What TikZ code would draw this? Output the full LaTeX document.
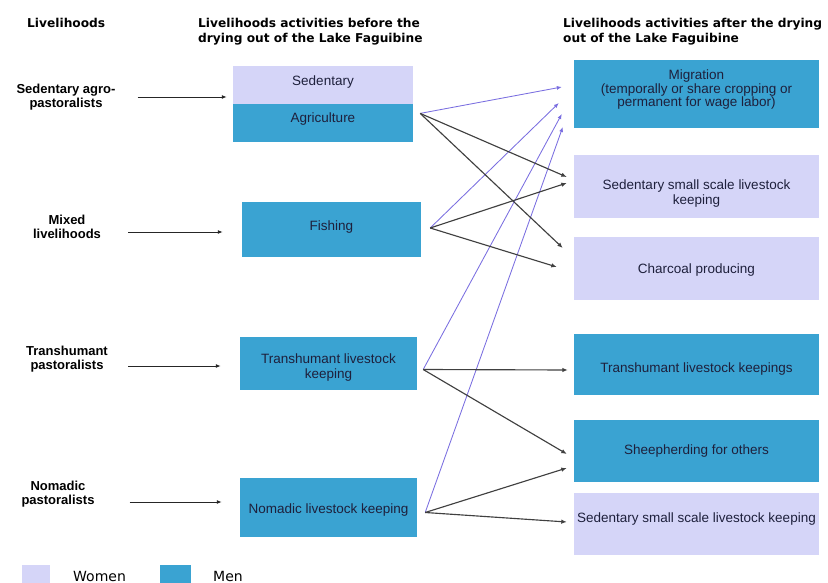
\documentclass[tikz,border=0pt]{standalone}
\usepackage{fontspec}
\setmainfont{Liberation Sans}
\newfontfamily\headfont{DejaVu Sans}
\usetikzlibrary{arrows.meta,positioning}
\definecolor{womenfill}{RGB}{213,213,248}
\definecolor{menfill}{RGB}{58,163,210}
\definecolor{migrline}{RGB}{122,110,224}
\definecolor{boxtext}{RGB}{30,32,60}
\tikzstyle{women} = [rectangle, fill=womenfill, text=boxtext, align=center, inner sep=0pt, font=\fontsize{13.5}{15}\selectfont]
\tikzstyle{men} = [rectangle, fill=menfill, text=boxtext, align=center, inner sep=0pt, font=\fontsize{13.5}{15}\selectfont]
\tikzstyle{group} = [align=center, inner sep=0pt, font=\bfseries\fontsize{13}{14.5}\selectfont]
\tikzstyle{heading} = [anchor=north west, align=left, inner sep=0pt, font=\headfont\bfseries\fontsize{12.2}{15}\selectfont]
\tikzstyle{feed} = [line width=0.35mm, draw=black!85, -{Latex[length=5pt,width=4pt]}]
\tikzstyle{change} = [line width=0.4mm, draw=black!75, -{Latex[length=5.5pt,width=4.5pt]}]
\tikzstyle{migrate} = [line width=0.3mm, draw=migrline, -{Latex[length=5pt,width=4pt]}]

\begin{document}
\begin{tikzpicture}[x=1pt, y=-1pt]
        \useasboundingbox (0,0) rectangle (828,583);
        \node (head-group) [heading] at (27,18.5) {Livelihoods};
        \node (head-before) [heading] at (198,18.5) {Livelihoods activities before the\\drying out of the Lake Faguibine};
        \node (head-after) [heading] at (563,18.5) {Livelihoods activities after the drying\\out of the Lake Faguibine};
        % livelihood groups
        \node (sed-grp) [group] at (66,97) {Sedentary agro-\\pastoralists};
        \node (mix-grp) [group] at (67,227) {Mixed\\livelihoods};
        \node (trans-grp) [group] at (67,359) {Transhumant\\pastoralists};
        \node (nom-grp) [group] at (58,494) {Nomadic\\pastoralists};
        % before the drying out
        \node (sed) [women, minimum width=180pt, minimum height=38pt, text depth=8pt] at (323,85) {Sedentary};
        \node (agri) [men, below=0pt of sed, minimum width=180pt, minimum height=38pt, text depth=12pt] {Agriculture};
        \node (fish) [men, minimum width=179pt, minimum height=55pt, text depth=8pt] at (331.5,229.5) {Fishing};
        \node (trans) [men, minimum width=177pt, minimum height=53pt, text height=32pt] at (328.5,363.5) {Transhumant livestock\\keeping};
        \node (nom) [men, minimum width=177pt, minimum height=59pt, text height=15.5pt] at (328.5,507.5) {Nomadic livestock keeping};
        % after the drying out
        \node (migr) [men, minimum width=245pt, minimum height=68pt, font=\fontsize{13.5}{12.5}\selectfont, text depth=11pt] at (696.5,94) {Migration\\(temporally or share cropping or\\permanent for wage labor)};
        \node (sedsm) [women, minimum width=245pt, minimum height=63pt, text height=39pt] at (696.5,186.5) {Sedentary small scale livestock\\keeping};
        \node (char) [women, minimum width=245pt, minimum height=63pt, text height=13.5pt] at (696.5,268.5) {Charcoal producing};
        \node (tkeep) [men, minimum width=245pt, minimum height=61pt, text height=19.5pt] at (696.5,364.5) {Transhumant livestock keepings};
        \node (sheep) [men, minimum width=245pt, minimum height=62pt] at (696.5,451) {Sheepherding for others};
        \node (sedsm-b) [women, minimum width=245pt, minimum height=62pt, text depth=12pt] at (696.5,524) {Sedentary small scale livestock keeping};
        % legend
        \node (women-key) [women, minimum width=28pt, minimum height=26pt] at (36,578) {};
        \node (women-txt) [anchor=base west, inner sep=0pt, font=\headfont\fontsize{14}{15}\selectfont] at (73,581) {Women};
        \node (men-key) [men, minimum width=31pt, minimum height=26pt] at (175.5,578) {};
        \node (men-txt) [anchor=base west, inner sep=0pt, font=\headfont\fontsize{14}{15}\selectfont] at (213,581) {Men};
        % groups to activities
        \draw [feed, shorten <=22pt, shorten >=6pt] (sed-grp.east) -- (sed-grp.east -| sed.west);
        \draw [feed, shorten <=27pt, shorten >=19pt] ([yshift=-5pt]mix-grp.east) -- ([yshift=-5pt]mix-grp.east -| fish.west);
        \draw [feed, shorten <=20pt, shorten >=19pt] ([yshift=-7pt]trans-grp.east) -- ([yshift=-7pt]trans-grp.east -| trans.west);
        \draw [feed, shorten <=35pt, shorten >=18pt] ([yshift=-8pt]nom-grp.east) -- ([yshift=-8pt]nom-grp.east -| nom.west);
        % activities before to after
        \coordinate (agri-out) at ([xshift=7pt,yshift=10pt]agri.east);
        \coordinate (fish-out) at ([xshift=9pt,yshift=1.5pt]fish.east);
        \coordinate (trans-out) at ([xshift=6pt,yshift=-6pt]trans.east);
        \coordinate (nom-out) at ([xshift=8pt,yshift=-5pt]nom.east);
        \draw [migrate] (agri-out) -- ([xshift=-12pt,yshift=7pt]migr.west);
        \draw [migrate] (fish-out) -- ([xshift=-15pt,yshift=-9pt]migr.west);
        \draw [migrate] (trans-out) -- ([xshift=-12pt,yshift=-20pt]migr.west);
        \draw [migrate] (nom-out) -- ([xshift=-11pt,yshift=-33pt]migr.west);
        \draw [change] (agri-out) -- ([xshift=-7pt,yshift=9.5pt]sedsm.west);
        \draw [change] (agri-out) -- ([xshift=-11pt,yshift=20.5pt]char.west);
        \draw [change] (fish-out) -- ([xshift=-7pt,yshift=3.5pt]sedsm.west);
        \draw [change] (fish-out) -- ([xshift=-17pt,yshift=1.5pt]char.west);
        \draw [change] (trans-out) -- ([xshift=-6pt,yshift=-5.5pt]tkeep.west);
        \draw [change] (trans-out) -- ([xshift=-7pt,yshift=-3pt]sheep.west);
        \draw [change] (nom-out) -- ([xshift=-7pt,yshift=-17pt]sheep.west);
        \draw [change] (nom-out) -- ([xshift=-7pt,yshift=2pt]sedsm-b.west);
    \end{tikzpicture}
\end{document}
